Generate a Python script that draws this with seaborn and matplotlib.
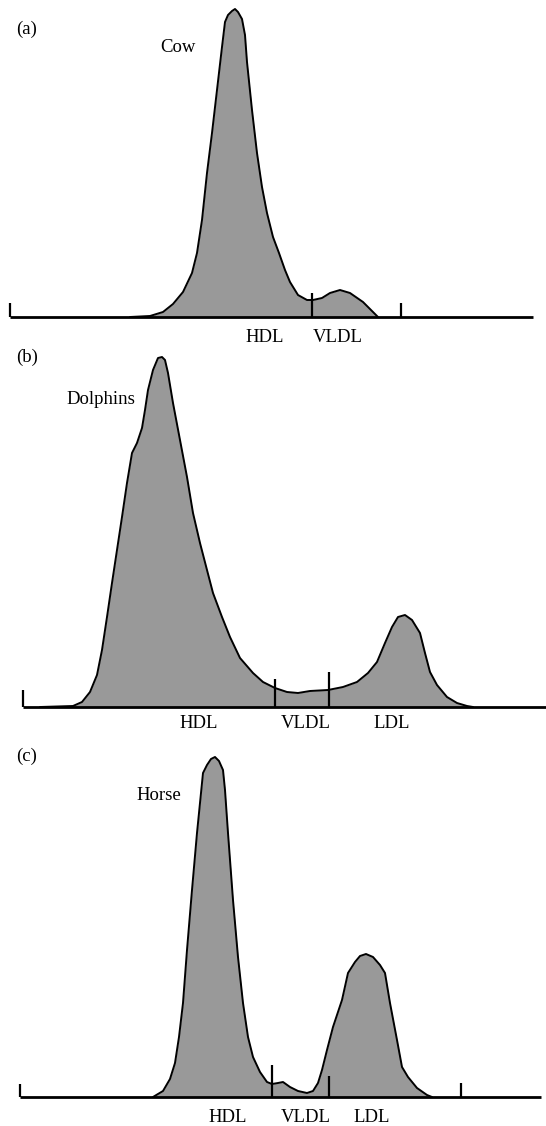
import numpy as np
import pandas as pd
import matplotlib
matplotlib.use("Agg")
import matplotlib.pyplot as plt
import seaborn as sns

#--------------------Profile data (migration position, signal height)-----------------------
cow_x = [130, 150, 163, 173, 183, 192, 197, 202, 207, 212, 217, 222, 225, 228, 232, 235, 238, 242, 245, 247,
         252, 257, 262, 267, 273, 279, 285, 290, 298, 307, 313, 322, 330, 340, 350, 363, 378]
cow_h = [0, 1, 5, 13, 25, 44, 64, 97, 144, 184, 227, 270, 295, 302, 306, 308, 305, 298, 282, 255,
         207, 164, 130, 104, 80, 64, 47, 35, 22, 17, 17, 19, 24, 27, 24, 15, 0]

dolphin_x = [40, 73, 82, 90, 97, 102, 107, 112, 117, 122, 127, 132, 137, 142, 145, 148, 153, 158, 162, 165,
             168, 173, 180, 187, 193, 200, 207, 213, 222, 230, 240, 253, 263, 275, 287, 298, 310, 328, 343, 357,
             368, 377, 385, 392, 398, 405, 412, 420, 425, 430, 437, 447, 457, 467, 473]
dolphin_h = [0, 1, 5, 15, 32, 57, 90, 124, 157, 190, 224, 254, 264, 279, 297, 317, 337, 349, 350, 347,
             334, 304, 267, 230, 194, 164, 137, 114, 90, 70, 49, 34, 25, 19, 15, 14, 16, 17, 20, 25,
             34, 45, 64, 80, 90, 92, 87, 74, 54, 35, 22, 10, 4, 1, 0]

horse_x = [153, 163, 170, 175, 179, 183, 187, 192, 197, 201, 203, 207, 211, 215, 219, 223, 225, 228, 233, 238,
           243, 248, 253, 260, 267, 272, 278, 283, 290, 298, 307, 313, 318, 322, 327, 333, 342, 348, 355, 360,
           366, 373, 380, 385, 390, 397, 402, 408, 417, 427, 432]
horse_h = [0, 6, 18, 34, 60, 94, 147, 207, 264, 304, 324, 332, 338, 340, 336, 327, 307, 264, 197, 140,
           94, 60, 40, 25, 15, 13, 14, 15, 10, 6, 4, 6, 14, 27, 47, 70, 97, 124, 135, 141,
           143, 140, 132, 124, 94, 57, 30, 20, 9, 2, 0]

# fraction boundary marks: position and height
cow_marks_x = [10, 312, 401]
cow_marks_h = [14, 24, 14]
dolphin_marks_x = [23, 275, 329]
dolphin_marks_h = [17, 28, 35]
horse_marks_x = [20, 272, 329, 461]
horse_marks_h = [13, 32, 21, 14]

# baseline extents
cow_base = [10, 533]
dolphin_base = [23, 546]
horse_base = [20, 541]

# fraction labels
cow_labels = ["HDL", "VLDL"]
cow_label_x = [265, 338]
dolphin_labels = ["HDL", "VLDL", "LDL"]
dolphin_label_x = [199, 306, 392]
horse_labels = ["HDL", "VLDL", "LDL"]
horse_label_x = [228, 306, 372]

#--------------------Figure setup-----------------------
sns.set_theme(style="white")
plt.rcParams['font.family'] = ['Liberation Serif', 'DejaVu Serif']
plt.rcParams['text.color'] = 'black'

W, H = 546, 1126
fig = plt.figure(figsize=(W / 100, H / 100), dpi=100)

panels = [
    # tag, species, x, h, marks x, marks h, base, labels, label x, rows(top,bottom), baseline row, tag pos, name pos, label h
    ("(a)", "Cow", cow_x, cow_h, cow_marks_x, cow_marks_h, cow_base, cow_labels, cow_label_x,
     (0, 360), 317, (27, 288), (178, 270), -20),
    ("(b)", "Dolphins", dolphin_x, dolphin_h, dolphin_marks_x, dolphin_marks_h, dolphin_base, dolphin_labels, dolphin_label_x,
     (345, 740), 707, (27, 350), (101, 307), -16),
    ("(c)", "Horse", horse_x, horse_h, horse_marks_x, horse_marks_h, horse_base, horse_labels, horse_label_x,
     (735, 1126), 1097, (27, 341), (159, 301), -20),
]

for tag, name, xs, hs, mx, mh, base, labels, lx, rows, B, tag_pos, name_pos, lab_h in panels:
    top, bot = rows
    ax = fig.add_axes([0, 1 - bot / H, 1, (bot - top) / H])
    ax.set_xlim(0, W)
    ax.set_ylim(B - bot, B - top)
    ax.patch.set_alpha(0)
    ax.set_axis_off()

    df = pd.DataFrame({"pos": xs, "signal": hs})
    ax.fill_between(df["pos"], 0, df["signal"], color="#999999", linewidth=0, zorder=1)
    sns.lineplot(data=df, x="pos", y="signal", ax=ax, color="black", linewidth=1.4, zorder=3)

    # baseline and boundary marks
    ax.plot(base, [0, 0], color="black", linewidth=2, solid_capstyle="butt", zorder=4)
    ax.vlines(mx, 0, mh, color="black", linewidth=1.6, zorder=4)

    ax.text(tag_pos[0], tag_pos[1], tag, ha="center", va="center", fontsize=13.5, color="black")
    ax.text(name_pos[0], name_pos[1], name, ha="center", va="center", fontsize=13.5, color="black")
    for lab, x in zip(labels, lx):
        ax.text(x, lab_h, lab, ha="center", va="center", fontsize=13.5, color="black")

fig.savefig("out.png", dpi=100)
